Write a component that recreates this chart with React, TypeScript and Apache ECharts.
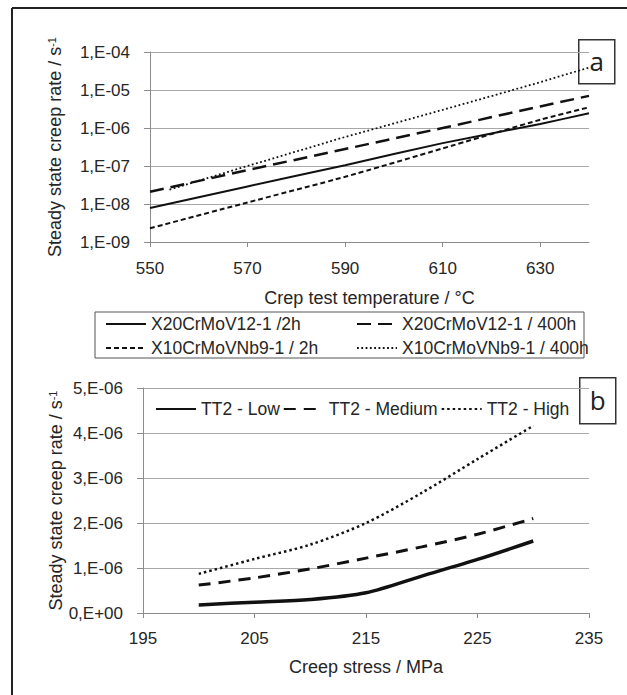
import React, { useEffect, useRef } from 'react';
import * as echarts from 'echarts';

// ---- Chart a: creep rate vs temperature (log scale) ----
const tempX = [550, 570, 590, 610, 630, 640];
const x20_2h = [7.8e-9, 2.9e-8, 1.05e-7, 4.0e-7, 1.28e-6, 2.45e-6];
const x20_400h = [2.1e-8, 7.8e-8, 2.8e-7, 1.0e-6, 3.7e-6, 7.0e-6];
const x10_2h = [2.3e-9, 1.1e-8, 5.2e-8, 2.9e-7, 1.65e-6, 3.5e-6];
const x10_400hX = [554, 570, 590, 610, 630, 640];
const x10_400h = [2.4e-8, 1.0e-7, 5.8e-7, 3.0e-6, 1.6e-5, 3.9e-5];
const tempTicks = [550, 570, 590, 610, 630];
const namesA = [
  'X20CrMoV12-1 /2h',
  'X20CrMoV12-1 / 400h',
  'X10CrMoVNb9-1 / 2h',
  'X10CrMoVNb9-1 / 400h',
];

// ---- Chart b: creep rate vs stress ----
const stressX = [200, 205, 210, 215, 220, 225, 230];
const tt2Low = [0.18e-6, 0.24e-6, 0.3e-6, 0.45e-6, 0.82e-6, 1.19e-6, 1.6e-6];
const tt2Medium = [0.62e-6, 0.78e-6, 0.98e-6, 1.22e-6, 1.47e-6, 1.75e-6, 2.1e-6];
const tt2High = [0.87e-6, 1.2e-6, 1.52e-6, 2.0e-6, 2.67e-6, 3.42e-6, 4.16e-6];
const stressTicks = [195, 205, 215, 225, 235];
const namesB = ['TT2 - Low', 'TT2 - Medium', 'TT2 - High'];

const FONT = '"Liberation Sans", Arial, sans-serif';
const TXT = '#262626';
const AXIS = '#8c8c8c';
const GRID = '#a8a8a8';
const LINE = '#111111';

const pair = (xs: number[], ys: number[]) => xs.map((x, i) => [x, ys[i]]);

const logFmt = (v: number) => {
  const e = Math.round(Math.log10(v));
  return `1,E${e < 0 ? '-' : '+'}${String(Math.abs(e)).padStart(2, '0')}`;
};
const linFmt = (v: number) => {
  const m = Math.round(v * 1e6);
  return m === 0 ? '0,E+00' : `${m},E-06`;
};

const yName = '{a|Steady state creep rate / s}{b|-1}';
const yNameRich = {
  a: { fontFamily: FONT, fontSize: 18, color: TXT },
  b: { fontFamily: FONT, fontSize: 11, color: TXT, verticalAlign: 'top' as const },
};

const legendCommon = {
  itemWidth: 40,
  itemHeight: 14,
  padding: 0,
  itemStyle: { color: 'rgba(0,0,0,0)', borderWidth: 0, opacity: 0 },
  textStyle: { fontFamily: FONT, fontSize: 17.5, color: TXT, lineHeight: 20 },
};

export default function App() {
  const ref = useRef<HTMLDivElement>(null);
  useEffect(() => {
    if (!ref.current) return;
    const chart = echarts.init(ref.current, undefined, { renderer: 'svg' });
    const option: any = {
      animation: false,
      backgroundColor: '#ffffff',
      textStyle: { fontFamily: FONT, color: TXT },
      grid: [
        { left: 150, top: 52, width: 439, height: 190 },
        { left: 143, top: 388, width: 446, height: 225 },
      ],
      xAxis: [
        {
          gridIndex: 0,
          type: 'value',
          min: 550,
          max: 640,
          interval: 20,
          name: 'Crep test temperature / °C',
          nameLocation: 'middle',
          nameGap: 47,
          nameTextStyle: { fontFamily: FONT, fontSize: 18, color: TXT },
          axisLine: { show: true, lineStyle: { color: AXIS, width: 1 } },
          axisTick: { show: true, length: 5, customValues: tempTicks, lineStyle: { color: AXIS } },
          axisLabel: {
            customValues: tempTicks,
            margin: 18,
            fontFamily: FONT,
            fontSize: 17,
            color: TXT,
            formatter: (v: number) => (tempTicks.includes(v) ? String(v) : ''),
          },
          splitLine: { show: false },
        },
        {
          gridIndex: 1,
          type: 'value',
          min: 195,
          max: 235,
          interval: 10,
          name: 'Creep stress / MPa',
          nameLocation: 'middle',
          nameGap: 45,
          nameTextStyle: { fontFamily: FONT, fontSize: 18, color: TXT },
          axisLine: { show: true, lineStyle: { color: AXIS, width: 1 } },
          axisTick: { show: true, length: 5, lineStyle: { color: AXIS } },
          axisLabel: {
            margin: 17,
            fontFamily: FONT,
            fontSize: 17,
            color: TXT,
            formatter: (v: number) => (stressTicks.includes(v) ? String(v) : ''),
          },
          splitLine: { show: false },
        },
      ],
      yAxis: [
        {
          gridIndex: 0,
          type: 'log',
          logBase: 10,
          min: 1e-9,
          max: 1e-4,
          name: yName,
          nameLocation: 'middle',
          nameGap: 86,
          nameMoveOverlap: false,
          nameRotate: 90,
          nameTextStyle: { rich: yNameRich },
          axisLine: { show: true, lineStyle: { color: AXIS, width: 1 } },
          axisTick: { show: true, length: 6, lineStyle: { color: AXIS } },
          axisLabel: { margin: 20, fontFamily: FONT, fontSize: 17, color: TXT, formatter: logFmt },
          splitLine: { show: true, lineStyle: { color: GRID, width: 1 } },
          minorTick: { show: false },
        },
        {
          gridIndex: 1,
          type: 'value',
          min: 0,
          max: 5e-6,
          interval: 1e-6,
          name: yName,
          nameLocation: 'middle',
          nameGap: 78,
          nameMoveOverlap: false,
          nameRotate: 90,
          nameTextStyle: { rich: yNameRich },
          axisLine: { show: true, lineStyle: { color: AXIS, width: 1 } },
          axisTick: { show: true, length: 6, lineStyle: { color: AXIS } },
          axisLabel: { margin: 20, fontFamily: FONT, fontSize: 17, color: TXT, formatter: linFmt },
          splitLine: { show: true, lineStyle: { color: GRID, width: 1 } },
        },
      ],
      legend: [
        {
          ...legendCommon,
          data: [namesA[0], namesA[2]],
          orient: 'vertical',
          left: 105,
          top: 314,
          itemGap: 4,
        },
        {
          ...legendCommon,
          data: [namesA[1], namesA[3]],
          orient: 'vertical',
          left: 356,
          top: 314,
          itemGap: 4,
        },
        {
          ...legendCommon,
          data: namesB,
          orient: 'horizontal',
          left: 155,
          top: 399,
          itemGap: 3,
        },
      ],
      series: [
        {
          name: namesA[0],
          type: 'line',
          xAxisIndex: 0,
          yAxisIndex: 0,
          data: pair(tempX, x20_2h),
          symbol: 'none',
          smooth: 0.2,
          lineStyle: { color: LINE, width: 2, type: 'solid' },
          itemStyle: { color: LINE },
        },
        {
          name: namesA[1],
          type: 'line',
          xAxisIndex: 0,
          yAxisIndex: 0,
          data: pair(tempX, x20_400h),
          symbol: 'none',
          lineStyle: { color: LINE, width: 2.5, type: [14, 7] },
          itemStyle: { color: LINE },
        },
        {
          name: namesA[2],
          type: 'line',
          xAxisIndex: 0,
          yAxisIndex: 0,
          data: pair(tempX, x10_2h),
          symbol: 'none',
          smooth: 0.2,
          lineStyle: { color: LINE, width: 2, type: [5, 3] },
          itemStyle: { color: LINE },
        },
        {
          name: namesA[3],
          type: 'line',
          xAxisIndex: 0,
          yAxisIndex: 0,
          data: pair(x10_400hX, x10_400h),
          symbol: 'none',
          lineStyle: { color: LINE, width: 1.8, type: [1.8, 2.5] },
          itemStyle: { color: LINE },
        },
        {
          name: namesB[0],
          type: 'line',
          xAxisIndex: 1,
          yAxisIndex: 1,
          data: pair(stressX, tt2Low),
          symbol: 'none',
          smooth: 0.3,
          lineStyle: { color: LINE, width: 3.5, type: 'solid' },
          itemStyle: { color: LINE },
        },
        {
          name: namesB[1],
          type: 'line',
          xAxisIndex: 1,
          yAxisIndex: 1,
          data: pair(stressX, tt2Medium),
          symbol: 'none',
          smooth: 0.3,
          lineStyle: { color: LINE, width: 3, type: [12, 8] },
          itemStyle: { color: LINE },
        },
        {
          name: namesB[2],
          type: 'line',
          xAxisIndex: 1,
          yAxisIndex: 1,
          data: pair(stressX, tt2High),
          symbol: 'none',
          smooth: 0.3,
          lineStyle: { color: LINE, width: 2.5, type: [2.5, 3] },
          itemStyle: { color: LINE },
        },
      ],
      graphic: [
        { type: 'line', shape: { x1: 12, y1: 8, x2: 12, y2: 695 }, style: { stroke: '#222', lineWidth: 2 } },
        { type: 'line', shape: { x1: 12, y1: 8, x2: 627, y2: 8 }, style: { stroke: '#222', lineWidth: 2 } },
        {
          type: 'rect',
          shape: { x: 95, y: 312, width: 489, height: 46 },
          style: { fill: 'none', stroke: '#555', lineWidth: 1 },
          z: 1,
        },
        {
          type: 'group',
          left: 578,
          top: 39,
          z: 100,
          children: [
            { type: 'rect', shape: { x: 0, y: 0, width: 36, height: 44 }, style: { fill: '#fff', stroke: '#333', lineWidth: 1.5 } },
            {
              type: 'text',
              x: 18,
              y: 21,
              style: { text: 'a', font: '26px "Open Sans", "Noto Sans", sans-serif', fill: '#222', align: 'center', verticalAlign: 'middle' },
            },
          ],
        },
        {
          type: 'group',
          left: 579,
          top: 377,
          z: 100,
          children: [
            { type: 'rect', shape: { x: 0, y: 0, width: 36, height: 46 }, style: { fill: '#fff', stroke: '#333', lineWidth: 1.5 } },
            {
              type: 'text',
              x: 18,
              y: 22,
              style: { text: 'b', font: '26px "Open Sans", "Noto Sans", sans-serif', fill: '#222', align: 'center', verticalAlign: 'middle' },
            },
          ],
        },
      ],
    };
    chart.setOption(option);
    return () => chart.dispose();
  }, []);
  return (
    <div
      ref={ref}
      style={{ position: 'absolute', left: 0, top: 0, width: 627, height: 695, background: '#fff' }}
    />
  );
}
